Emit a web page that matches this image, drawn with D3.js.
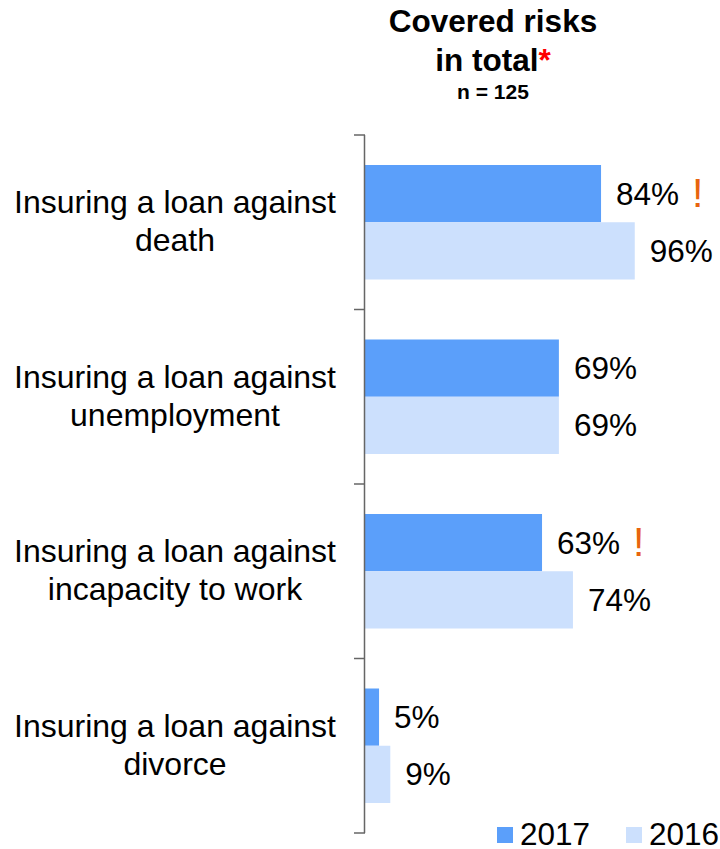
<!DOCTYPE html>
<html>
<head>
<meta charset="utf-8">
<script src="https://cdn.jsdelivr.net/npm/d3@7"></script>
<style>
  html, body { margin: 0; padding: 0; background: #fff; }
  svg { display: block; font-family: Arial, "Liberation Sans", sans-serif; }
</style>
</head>
<body>
<svg id="chart" width="720" height="849"></svg>
<script>
// Share of covered risks per loan insurance type, by survey year
const categories = [
  ["Insuring a loan against", "death"],
  ["Insuring a loan against", "unemployment"],
  ["Insuring a loan against", "incapacity to work"],
  ["Insuring a loan against", "divorce"]
];
const series = ["2017", "2016"];
const values2017 = [84, 69, 63, 5];
const values2016 = [96, 69, 74, 9];
// significant change markers shown next to the 2017 values
const alerts2017 = [true, false, true, false];
const colors = { "2017": "#5B9FFA", "2016": "#CCE0FD" };

const svg = d3.select("#chart");
const catKeys = categories.map((c, i) => i);

const x = d3.scaleLinear().domain([0, 100]).range([365, 646]);
const y = d3.scaleBand().domain(catKeys).range([135, 833]).padding(0);
const inner = d3.scaleBand().domain(series).range([30, y.bandwidth() - 30]).padding(0);

// Title block
const title = svg.append("text")
  .attr("x", 493).attr("text-anchor", "middle")
  .attr("font-weight", "bold").attr("font-size", 31.5);
title.append("tspan").attr("x", 493).attr("y", 32).text("Covered risks");
const l2 = title.append("tspan").attr("x", 493).attr("y", 71);
l2.append("tspan").text("in total");
l2.append("tspan").attr("fill", "#FF0000").text("*");
svg.append("text")
  .attr("x", 493).attr("y", 99).attr("text-anchor", "middle")
  .attr("font-weight", "bold").attr("font-size", 21).text("n = 125");

// Bars
const rows = catKeys.map(i => ({
  i,
  bars: [
    { s: "2017", v: values2017[i], alert: alerts2017[i] },
    { s: "2016", v: values2016[i], alert: false }
  ]
}));

const groups = svg.selectAll("g.cat").data(rows).join("g")
  .attr("class", "cat")
  .attr("transform", d => `translate(0,${y(d.i)})`);

groups.selectAll("rect").data(d => d.bars).join("rect")
  .attr("x", x(0))
  .attr("y", d => inner(d.s))
  .attr("width", d => x(d.v) - x(0))
  .attr("height", inner.bandwidth())
  .attr("fill", d => colors[d.s]);

// Value labels
groups.selectAll("text.val").data(d => d.bars).join("text")
  .attr("class", "val")
  .attr("x", d => x(d.v) + 15)
  .attr("y", d => inner(d.s) + inner.bandwidth() / 2 + 11)
  .attr("font-size", 31.5)
  .attr("fill", "#000")
  .text(d => d.v + "%")
  .each(function(d) {
    if (!d.alert) return;
    const w = this.getComputedTextLength();
    d3.select(this.parentNode).append("text")
      .attr("x", x(d.v) + 15 + w + 13)
      .attr("y", inner(d.s) + inner.bandwidth() / 2 + 13)
      .attr("font-size", 41)
      .attr("fill", "#E8640E")
      .text("!");
  });

// Category labels
groups.append("text")
  .attr("text-anchor", "middle")
  .attr("font-size", 32)
  .attr("fill", "#000")
  .selectAll("tspan").data(d => categories[d.i]).join("tspan")
  .attr("x", 175)
  .attr("y", (d, k) => y.bandwidth() / 2 - 9 + k * 38)
  .text(d => d);

// Axis line and category boundary ticks
const axisColor = "#666";
svg.append("line")
  .attr("x1", x(0) - 0.5).attr("x2", x(0) - 0.5)
  .attr("y1", y.range()[0]).attr("y2", y.range()[1])
  .attr("stroke", axisColor).attr("stroke-width", 1.5);
const tickPos = catKeys.map(i => y(i)).concat([y.range()[1]]);
svg.selectAll("line.tick").data(tickPos).join("line")
  .attr("class", "tick")
  .attr("x1", x(0) - 11).attr("x2", x(0))
  .attr("y1", d => d).attr("y2", d => d)
  .attr("stroke", axisColor).attr("stroke-width", 1.5);

// Legend
const legendX = [497, 626];
const legend = svg.selectAll("g.leg").data(series).join("g")
  .attr("class", "leg")
  .attr("transform", (d, i) => `translate(${legendX[i]},827)`);
legend.append("rect").attr("width", 16).attr("height", 16).attr("fill", d => colors[d]);
legend.append("text").attr("x", 23).attr("y", 18).attr("font-size", 31.5).text(d => d);
</script>
</body>
</html>
